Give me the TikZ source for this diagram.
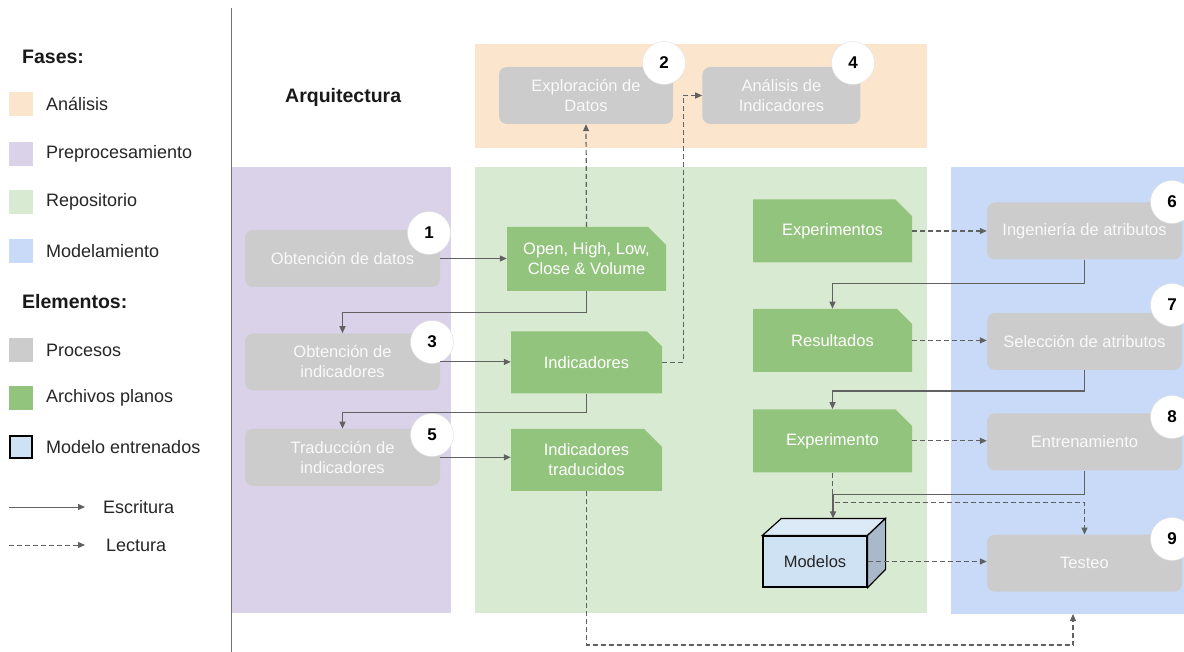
\documentclass[tikz,border=0pt]{standalone}
\usepackage{fontspec}
\setmainfont{Liberation Sans}
\usetikzlibrary{arrows.meta, positioning, shapes.misc}

\definecolor{anacol}{HTML}{FCE5CD}
\definecolor{precol}{HTML}{D9D2E9}
\definecolor{repcol}{HTML}{D9EAD3}
\definecolor{modcol}{HTML}{C9DAF8}
\definecolor{procgray}{HTML}{CCCCCC}
\definecolor{filegreen}{HTML}{93C47D}
\definecolor{cubefront}{HTML}{CFE2F3}
\definecolor{cubetop}{HTML}{DCE9F6}
\definecolor{cubeside}{HTML}{A9B9C9}
\definecolor{linegray}{HTML}{616161}

\begin{document}
\begin{tikzpicture}[
  x=1pt, y=-1pt,
  txt/.style={font=\fontsize{16.5}{20}\selectfont, align=center, inner sep=0pt},
  leg/.style={font=\fontsize{18}{22}\selectfont, text=black!85, anchor=west, inner sep=0pt},
  head/.style={font=\fontsize{19.5}{23}\selectfont\bfseries, text=black!90, anchor=west, inner sep=0pt},
  lsq/.style={minimum size=24pt, inner sep=0pt},
  proc/.style={txt, fill=procgray, text=white!95!gray, rounded corners=8pt, minimum width=195pt, minimum height=57pt},
  file/.style={txt, fill=filegreen, text=white, chamfered rectangle, chamfered rectangle corners=north east,
    chamfered rectangle xsep=9pt, chamfered rectangle ysep=9pt, minimum width=159pt, minimum height=63pt},
  num/.style={circle, fill=white, draw=black!12, minimum size=43pt, inner sep=0pt, font=\fontsize{17}{20}\selectfont\bfseries},
  write/.style={-{Triangle[length=7pt,width=6pt]}, linegray, line width=1.2pt},
  read/.style={write, dash pattern=on 5pt off 3pt},
]
  \clip (0,0) rectangle (1184,652);
  \fill[white] (0,0) rectangle (1184,652);

  % fases
  \fill[anacol] (475,44) rectangle (927,148);
  \fill[precol] (231,167) rectangle (451,613);
  \fill[repcol] (475,167) rectangle (927,613);
  \fill[modcol] (951,167) rectangle (1184,614);
  \draw[black!55, line width=1pt] (231,8) -- (231,652);

  % leyenda
  \node[head] (fases) at (22,57) {Fases:};
  \node[lsq, fill=anacol] (sqana) at (21,104) {};
  \node[leg] (lana) at (46,104) {Análisis};
  \node[lsq, fill=precol] (sqpre) at (21,154) {};
  \node[leg] (lpre) at (46,154) {Preprocesamiento};
  \node[lsq, fill=repcol] (sqrep) at (21,202) {};
  \node[leg] (lrep) at (46,202) {Repositorio};
  \node[lsq, fill=modcol] (sqmod) at (21,251) {};
  \node[leg] (lmod) at (46,251) {Modelamiento};
  \node[head] (elementos) at (22,302) {Elementos:};
  \node[lsq, fill=procgray] (sqproc) at (21,350) {};
  \node[leg] (lproc) at (46,350) {Procesos};
  \node[lsq, fill=filegreen] (sqfile) at (21,398) {};
  \node[leg] (lfile) at (46,398) {Archivos planos};
  \node[lsq, fill=cubefront, draw=black, line width=1.2pt, minimum size=22pt] (sqcube) at (21,447) {};
  \node[leg] (lcube) at (46,447) {Modelo entrenados};
  \coordinate (ew0) at (9,507);
  \coordinate (ew1) at (85,507);
  \node[leg] (lwrite) at (103,507) {Escritura};
  \coordinate (er0) at (9,545);
  \coordinate (er1) at (85,545);
  \node[leg] (lread) at (106,545) {Lectura};
  \draw[write, line width=1pt] (ew0) -- (ew1);
  \draw[read, line width=1pt] (er0) -- (er1);

  \node[head] (arq) at (285,97) {Arquitectura};

  % procesos
  \node[proc, minimum width=174pt] (explo) at (586,95.5) {Exploración de\\Datos};
  \node[proc, minimum width=158pt, right=29pt of explo] (anind) {Análisis de\\Indicadores};
  \node[proc] (obtdat) at (342.5,258.5) {Obtención de datos};
  \node[proc, below=46pt of obtdat] (obtind) {Obtención de\\indicadores};
  \node[proc, below=38pt of obtind] (trad) {Traducción de\\indicadores};
  \node[proc] (ingat) at (1084.5,231) {Ingeniería de atributos};
  \node[proc, below=53pt of ingat] (selat) {Selección de atributos};
  \node[proc, below=43pt of selat] (entr) {Entrenamiento};
  \node[proc, below=64pt of entr] (test) {Testeo};

  % archivos
  \node[file, minimum height=64pt] (ohlc) at (586.5,259) {Open, High, Low,\\Close \& Volume};
  \node[file, minimum width=151pt, minimum height=62pt, below=40pt of ohlc] (ind) {Indicadores};
  \node[file, minimum width=151pt, minimum height=62pt, below=35pt of ind] (indtr) {Indicadores\\traducidos};
  \node[file] (expts) at (832.5,231) {Experimentos};
  \node[file, below=46pt of expts] (res) {Resultados};
  \node[file, below=37pt of res] (expo) {Experimento};

  % modelos
  \node[txt, fill=cubefront, draw=black, line width=1.2pt, minimum width=104pt, minimum height=51pt, text=black!85] (modelos) at (815,561.5) {Modelos};
  \draw[black, line width=1.2pt, fill=cubetop] (modelos.north west) -- ++(19,-17) -- ++(104,0) -- (modelos.north east) -- cycle;
  \draw[black, line width=1.2pt, fill=cubeside] (modelos.north east) -- ++(18,-17) -- ++(0,51) -- (modelos.south east) -- cycle;

  % numeros
  \node[num] (n1) at (429,233) {1};
  \node[num] (n2) at (664,63) {2};
  \node[num] (n3) at (432,342) {3};
  \node[num] (n4) at (853,63) {4};
  \node[num] (n5) at (432,435) {5};
  \node[num] (n6) at (1172,202) {6};
  \node[num] (n7) at (1172,305) {7};
  \node[num] (n8) at (1172,417) {8};
  \node[num] (n9) at (1172,539) {9};

  % escritura
  \draw[write] (obtdat.east) -- (obtdat.east -| ohlc.west);
  \draw[write] (obtind.east) -- (obtind.east -| ind.west);
  \draw[write] (trad.east) -- (trad.east -| indtr.west);
  \draw[write] (ohlc.south) -- ++(0,21) -| (obtind.north);
  \draw[write] (ind.south) -- ++(0,19) -| (trad.north);
  \draw[write] (ingat.south) -- ++(0,24) -| (res.north);
  \draw[write] (selat.south) -- ++(0,21) -| (expo.north);
  \draw[write] (entr.south) -- ++(0,24) -| ([xshift=18pt,yshift=17pt]modelos.north);

  % lectura
  \coordinate (testin) at (1073,614);
  \draw[read] (ohlc.north) -- (explo.south);
  \draw[read] (ind.east) -- ++(21,0) |- (anind.west);
  \draw[read] (expts.east) -- (expts.east -| ingat.west);
  \draw[read] (res.east) -- (res.east -| selat.west);
  \draw[read] (expo.east) -- (expo.east -| entr.west);
  \draw[read] (expo.south) -- ++(0,30) -| (test.north);
  \draw[read] (modelos.east) -- (modelos.east -| test.west);
  \draw[read] (indtr.south) -- ++(0,154) -| (testin);
\end{tikzpicture}
\end{document}
